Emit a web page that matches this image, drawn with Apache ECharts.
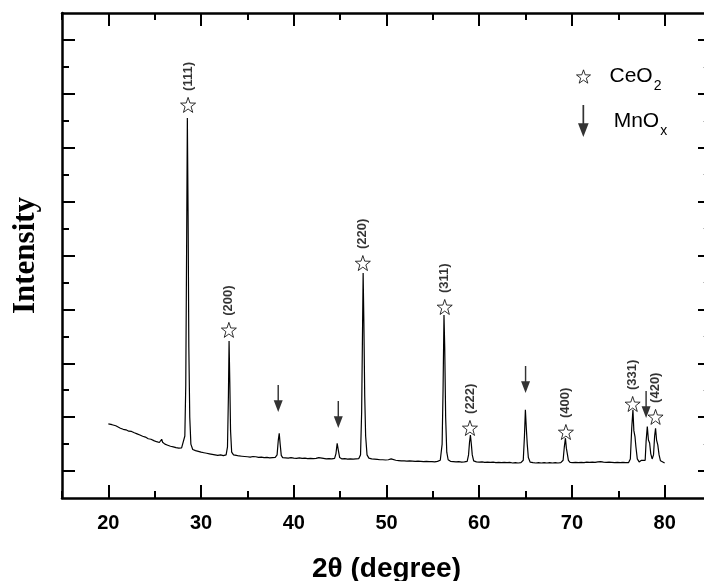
<!DOCTYPE html>
<html>
<head>
<meta charset="utf-8">
<title>XRD</title>
<script src="https://cdn.jsdelivr.net/npm/echarts@6/dist/echarts.min.js"></script>
<style>
  html, body { margin: 0; padding: 0; background: #fff; }
  #chart { width: 704px; height: 581px; }
</style>
</head>
<body>
<div id="chart"></div>
<script>
// pattern: [2theta, intensity (a.u.)]
const xrdPattern = [
  [20.0, 275], [20.2, 270], [20.4, 272], [20.6, 266], [20.8, 268], [21.0, 262], [21.3, 259], [21.6, 255],
  [21.9, 253], [22.2, 248], [22.5, 247], [22.8, 242], [23.1, 238], [23.4, 234], [23.7, 229], [24.0, 226],
  [24.3, 220], [24.6, 218], [24.9, 213], [25.2, 209], [25.5, 206], [25.65, 212], [25.75, 218], [25.85, 207],
  [26.1, 200], [26.4, 196], [26.7, 192], [27.0, 190], [27.3, 187], [27.6, 185], [27.9, 186], [28.1, 188],
  [28.25, 230], [28.35, 420], [28.45, 980], [28.52, 1410], [28.6, 1050], [28.68, 560], [28.78, 300], [28.9, 200],
  [29.1, 180], [29.4, 176], [29.7, 173], [30.0, 170], [30.3, 168], [30.6, 166], [30.9, 164], [31.2, 162],
  [31.5, 160], [31.8, 158], [32.1, 160], [32.4, 157], [32.7, 160], [32.85, 190], [32.95, 380], [33.02, 583],
  [33.1, 430], [33.18, 250], [33.3, 170], [33.5, 160], [33.8, 158], [34.1, 156], [34.4, 155], [34.7, 154],
  [35.0, 153], [35.3, 152], [35.6, 154], [35.9, 153], [36.2, 151], [36.5, 152], [36.8, 150], [37.1, 151],
  [37.4, 149], [37.7, 150], [38.0, 151], [38.2, 160], [38.33, 215], [38.43, 240], [38.53, 200], [38.65, 158],
  [38.8, 150], [39.1, 149], [39.4, 148], [39.7, 150], [40.0, 148], [40.3, 147], [40.6, 149], [40.9, 147],
  [41.2, 148], [41.5, 146], [41.8, 147], [42.1, 146], [42.4, 147], [42.7, 150], [42.9, 146], [43.2, 147],
  [43.5, 145], [43.8, 146], [44.1, 145], [44.4, 147], [44.55, 165], [44.68, 203], [44.8, 178], [44.95, 150],
  [45.2, 145], [45.5, 146], [45.8, 144], [46.1, 145], [46.4, 144], [46.7, 145], [47.0, 146], [47.2, 160],
  [47.32, 320], [47.42, 640], [47.48, 835], [47.56, 650], [47.65, 380], [47.75, 230], [47.9, 160], [48.1, 148],
  [48.4, 145], [48.7, 144], [49.0, 143], [49.3, 142], [49.6, 142], [49.9, 141], [50.2, 142], [50.5, 145],
  [50.7, 141], [51.0, 140], [51.3, 139], [51.6, 138], [51.9, 138], [52.2, 137], [52.5, 138], [52.8, 137],
  [53.1, 136], [53.4, 137], [53.7, 136], [54.0, 135], [54.3, 136], [54.6, 135], [54.9, 135], [55.2, 134],
  [55.5, 136], [55.8, 140], [56.0, 200], [56.1, 400], [56.2, 679], [56.28, 560], [56.38, 300], [56.5, 170],
  [56.65, 142], [56.9, 136], [57.2, 135], [57.5, 134], [57.8, 135], [58.1, 133], [58.4, 134], [58.7, 136],
  [58.85, 160], [58.95, 205], [59.05, 234], [59.15, 200], [59.25, 160], [59.4, 138], [59.7, 134], [60.0, 133],
  [60.3, 134], [60.6, 132], [60.9, 133], [61.2, 132], [61.5, 133], [61.8, 131], [62.1, 132], [62.4, 131],
  [62.7, 132], [63.0, 131], [63.3, 132], [63.6, 130], [63.9, 131], [64.2, 130], [64.5, 131], [64.75, 140],
  [64.88, 230], [64.98, 327], [65.08, 260], [65.18, 200], [65.3, 150], [65.5, 133], [65.8, 131], [66.1, 130],
  [66.4, 131], [66.7, 130], [67.0, 131], [67.3, 130], [67.6, 131], [67.9, 130], [68.2, 131], [68.5, 130],
  [68.8, 131], [69.05, 140], [69.18, 190], [69.3, 222], [69.4, 185], [69.5, 165], [69.62, 140], [69.8, 132],
  [70.1, 131], [70.4, 132], [70.7, 131], [71.0, 132], [71.3, 131], [71.6, 133], [71.9, 132], [72.2, 133],
  [72.5, 132], [72.8, 134], [73.1, 135], [73.4, 133], [73.7, 132], [74.0, 133], [74.3, 132], [74.6, 131],
  [74.9, 132], [75.2, 131], [75.5, 132], [75.8, 131], [76.1, 131], [76.3, 145], [76.45, 260], [76.58, 327],
  [76.68, 250], [76.8, 228], [76.9, 190], [77.05, 145], [77.25, 134], [77.5, 140], [77.7, 134], [77.9, 140],
  [78.0, 210], [78.13, 265], [78.25, 215], [78.38, 204], [78.5, 165], [78.65, 145], [78.8, 160], [78.92, 230],
  [79.02, 259], [79.13, 215], [79.26, 197], [79.4, 160], [79.55, 138], [79.75, 131], [80.0, 130]
]

// CeO2 reflections: [2theta, marker height, hkl]
const ceo2Peaks = [
  [28.6, 1459, '(111)'], [33.0, 624, '(200)'], [47.45, 872, '(220)'], [56.28, 709, '(311)'],
  [59.0, 260, '(222)'], [69.35, 245, '(400)'], [76.55, 349, '(331)'], [79.02, 301, '(420)']
]

// MnOx reflections: [2theta, arrow tip height]
const mnoxPeaks = [[38.32, 319], [44.8, 260], [65.0, 390], [78.0, 297]]

const xLabels = [20, 30, 40, 50, 60, 70, 80]
const yMajorTicks = [100, 300, 500, 700, 900, 1100, 1300, 1500, 1700]
const yMinorTicks = [200, 400, 600, 800, 1000, 1200, 1400, 1600]

const starPath = 'path://M0,-10 L2.351,-3.236 L9.511,-3.090 L3.804,1.236 L5.878,8.090 L0,4 L-5.878,8.090 L-3.804,1.236 L-9.511,-3.090 L-2.351,-3.236 Z'
const arrowPath = 'path://M4.2,0 L5.8,0 L5.8,17 L10,17 L5,30 L0,17 L4.2,17 Z'

const font = 'Liberation Sans, Arial, sans-serif'
const AXIS_W = 2.5

const chart = echarts.init(document.getElementById('chart'), null, { renderer: 'canvas' })

const xBase = {
  type: 'value',
  min: 15,
  max: 85,
  interval: 5,
  splitLine: { show: false },
  axisLine: { show: false, onZero: false }
}
const yBase = {
  type: 'value',
  min: 0,
  max: 1800,
  interval: 100,
  splitLine: { show: false },
  axisLabel: { show: false },
  axisLine: { show: false, onZero: false }
}

const legendRich = {
  a: { fontFamily: font, fontSize: 21, color: '#000' },
  s: { fontFamily: font, fontSize: 14, color: '#000', padding: [20, 0, 0, 1] }
}

chart.setOption({
  animation: false,
  backgroundColor: '#fff',
  // plot runs past the right edge of the canvas, as in the source figure
  grid: { left: 62, top: 13, width: 649, bottom: 83, containLabel: false, outerBoundsMode: 'none' },
  xAxis: [
    {
      ...xBase,
      position: 'bottom',
      name: '2θ (degree)',
      nameLocation: 'middle',
      nameGap: 57,
      nameTextStyle: { fontFamily: font, fontWeight: 'bold', fontSize: 28, color: '#000' },
      axisLine: { show: true, onZero: false, lineStyle: { color: '#000', width: AXIS_W } },
      axisTick: { show: true, inside: true, length: 7, lineStyle: { color: '#000', width: 2 } },
      axisLabel: { customValues: xLabels, margin: 15, fontFamily: font, fontWeight: 'bold', fontSize: 20, color: '#000' }
    },
    {
      ...xBase,
      position: 'bottom',
      axisTick: { customValues: xLabels, inside: true, length: 13, lineStyle: { color: '#000', width: 2 } },
      axisLabel: { show: false }
    },
    {
      ...xBase,
      position: 'top',
      axisLine: { show: true, onZero: false, lineStyle: { color: '#000', width: AXIS_W } },
      axisTick: { show: true, inside: true, length: 7, lineStyle: { color: '#000', width: 2 } },
      axisLabel: { show: false }
    },
    {
      ...xBase,
      position: 'top',
      axisTick: { customValues: xLabels, inside: true, length: 13, lineStyle: { color: '#000', width: 2 } },
      axisLabel: { show: false }
    }
  ],
  yAxis: [
    {
      ...yBase,
      position: 'left',
      name: 'Intensity',
      nameLocation: 'middle',
      nameGap: 21,
      nameTextStyle: { fontFamily: 'Liberation Serif, Times New Roman, serif', fontWeight: 'bold', fontSize: 31, color: '#000' },
      axisLine: { show: true, onZero: false, lineStyle: { color: '#000', width: AXIS_W } },
      axisTick: { customValues: yMinorTicks, inside: true, length: 7, lineStyle: { color: '#000', width: 2 } }
    },
    {
      ...yBase,
      position: 'left',
      axisTick: { customValues: yMajorTicks, inside: true, length: 13, lineStyle: { color: '#000', width: 2 } }
    },
    {
      ...yBase,
      position: 'right',
      axisLine: { show: true, onZero: false, lineStyle: { color: '#000', width: AXIS_W } },
      axisTick: { customValues: yMajorTicks, inside: true, length: 13, lineStyle: { color: '#000', width: 2 } }
    },
    {
      ...yBase,
      position: 'right',
      axisTick: { customValues: yMinorTicks, inside: true, length: 8, lineStyle: { color: '#bbb', width: 1 } }
    }
  ],
  legend: [
    {
      left: 571,
      top: 61,
      itemWidth: 14,
      itemHeight: 14,
      data: [{ name: 'CeO2', icon: starPath, itemStyle: { color: '#fff', borderColor: '#000', borderWidth: 1 } }],
      formatter: () => '{a|CeO}{s|2}',
      textStyle: { padding: [0, 0, 0, 14], rich: legendRich }
    },
    {
      left: 573,
      top: 100,
      itemWidth: 10.7,
      itemHeight: 32,
      data: [{ name: 'MnOx', icon: arrowPath, itemStyle: { color: '#000', borderWidth: 0 } }],
      formatter: () => '{a|MnO}{s|x}',
      textStyle: { padding: [0, 0, 0, 20], rich: legendRich }
    }
  ],
  series: [
    {
      name: 'pattern',
      type: 'line',
      data: xrdPattern,
      showSymbol: false,
      silent: true,
      lineStyle: { color: '#000', width: 1.2 },
      xAxisIndex: 0,
      yAxisIndex: 0
    },
    {
      name: 'CeO2',
      type: 'scatter',
      symbol: starPath,
      symbolSize: 15,
      itemStyle: { color: '#fff', borderColor: '#000', borderWidth: 1 },
      data: ceo2Peaks.map(p => ({ value: [p[0], p[1]], name: p[2] })),
      label: {
        show: true,
        formatter: '{b}',
        position: 'top',
        distance: 6,
        rotate: 90,
        align: 'left',
        verticalAlign: 'middle',
        fontFamily: font,
        fontWeight: 'bold',
        fontSize: 13,
        color: '#000'
      },
      z: 5
    },
    {
      name: 'MnOx',
      type: 'scatter',
      symbol: arrowPath,
      symbolSize: [9, 27],
      symbolOffset: [0, '-50%'],
      itemStyle: { color: '#000' },
      data: mnoxPeaks,
      z: 5
    }
  ]
})
</script>
</body>
</html>
